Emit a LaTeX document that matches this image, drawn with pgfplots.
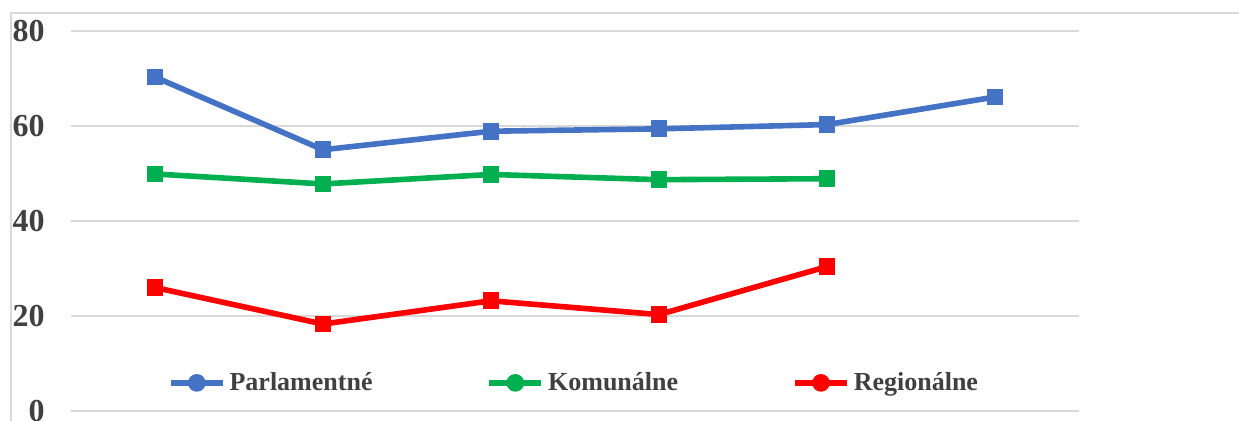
\documentclass[border=0pt]{standalone}
\usepackage{fontspec}
\setmainfont{Liberation Serif}
\usepackage{pgfplots}
\pgfplotsset{compat=1.18}
\definecolor{parl}{HTML}{4472C4}
\definecolor{kom}{HTML}{00B050}
\definecolor{reg}{HTML}{FF0000}
\definecolor{txt}{HTML}{404040}
\definecolor{grd}{HTML}{D9D9D9}
\begin{document}
\begin{tikzpicture}
\useasboundingbox (-35.5pt,-5pt) rectangle (584pt,205.5pt);
\draw[grd, line width=1pt] (-30pt,-6pt) -- (-30pt,199pt) -- (590pt,199pt);
\begin{axis}[
  at={(0,0)}, anchor=south west,
  scale only axis,
  width=504pt, height=190pt,
  xmin=-0.5, xmax=5.5,
  ymin=0, ymax=80,
  xtick=\empty,
  ytick={0,20,40,60,80},
  ymajorgrids,
  grid style={grd, line width=1pt},
  axis line style={draw=none},
  major tick length=0pt,
  clip=false,
  /pgf/number format/assume math mode=true,
  yticklabel style={font=\fontsize{16}{18}\selectfont\bfseries, text=txt, anchor=east, inner sep=0pt, xshift=-13pt},
  every axis plot/.append style={line width=2.8pt, mark=square*, mark size=2.8pt},
  legend columns=3,
  legend style={at={(0.5,0.074)}, anchor=center, draw=none, fill=none,
    font=\fontsize{13}{15}\selectfont\bfseries, text=txt,
    /tikz/every even column/.append style={column sep=55pt}},
  legend image code/.code={\draw[mark repeat=2, mark phase=2, #1, mark=*, mark size=3pt] plot coordinates {(0pt,0pt) (13pt,0pt) (26pt,0pt)};},
]
\addplot[parl] coordinates {(0,70.3) (1,55.0) (2,58.9) (3,59.4) (4,60.3) (5,66.1)};
\addlegendentry{Parlamentné}
\addplot[kom] coordinates {(0,49.9) (1,47.8) (2,49.8) (3,48.7) (4,48.9)};
\addlegendentry{Komunálne}
\addplot[reg] coordinates {(0,26.0) (1,18.3) (2,23.2) (3,20.3) (4,30.4)};
\addlegendentry{Regionálne}
\end{axis}
\end{tikzpicture}
\end{document}
